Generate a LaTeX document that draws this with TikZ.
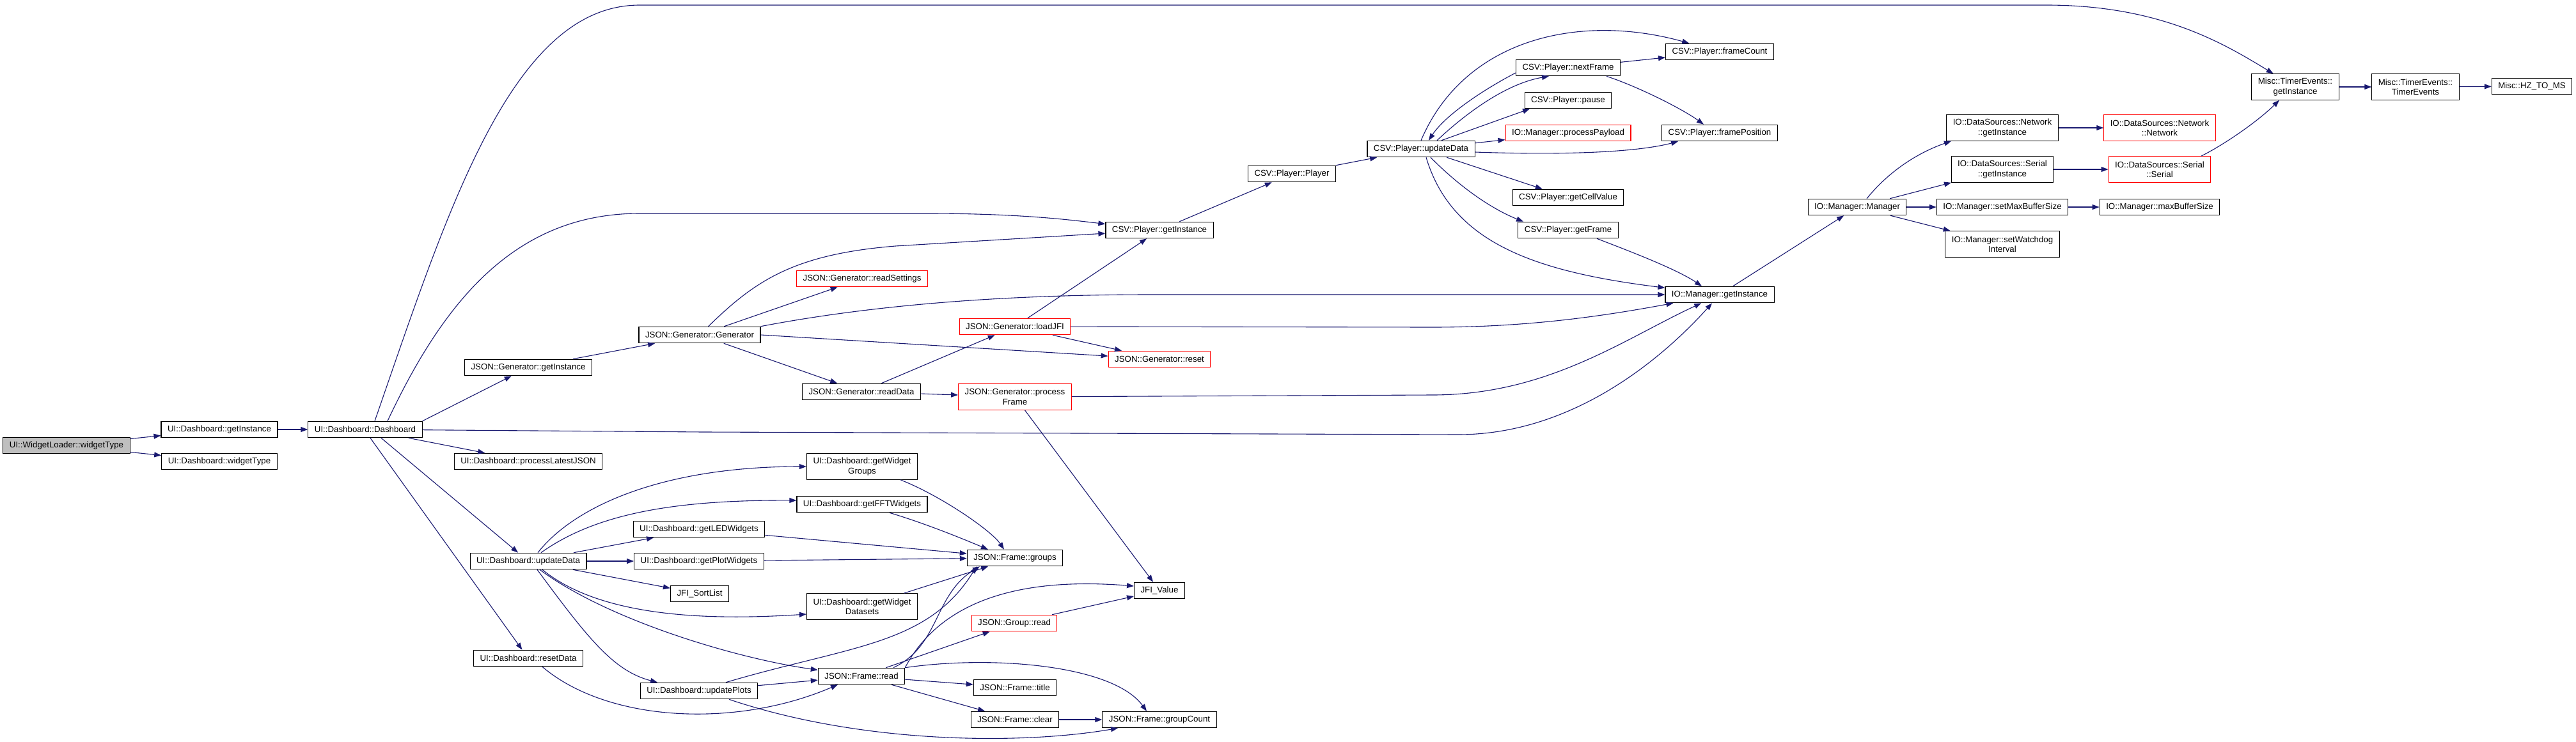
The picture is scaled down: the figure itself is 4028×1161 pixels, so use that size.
\documentclass[tikz,border=0pt]{standalone}
\usepackage{fontspec}
\setmainfont{Liberation Sans}
\usepackage{tikz}
\usetikzlibrary{arrows.meta}
\usepackage{xcolor}
\definecolor{callblue}{HTML}{191970}
\definecolor{rootgray}{HTML}{BFBFBF}
\definecolor{truncred}{HTML}{FF0000}
\newcommand{\fnsize}{\fontsize{13.3pt}{15.5pt}\selectfont}

\begin{document}
\begin{tikzpicture}[x=1pt, y=1pt,
      fn/.style={rectangle, draw=black, fill=white, line width=1.1pt, inner xsep=10pt, inner ysep=1pt, minimum height=25.5pt, align=center, font=\fnsize},
      fn2/.style={fn, minimum height=40.5pt},
      rootfn/.style={fn, fill=rootgray},
      trunc/.style={fn, draw=truncred},
      trunc2/.style={fn2, draw=truncred},
      arrow/.style={-{Triangle[length=11pt, width=8pt]}, line width=1.1pt, callblue},
    ]
    \useasboundingbox (0,0) rectangle (4028,-1161);

    \node[rootfn] (wlType) at (104,-697) {UI::WidgetLoader::widgetType};
    \node[fn] (dbInst) at (343,-672) {UI::Dashboard::getInstance};
    \node[fn] (dbType) at (343,-722) {UI::Dashboard::widgetType};
    \node[fn] (dbCtor) at (571,-672) {UI::Dashboard::Dashboard};
    \node[fn] (genInst) at (826,-575) {JSON::Generator::getInstance};
    \node[fn] (procJson) at (826,-722) {UI::Dashboard::processLatestJSON};
    \node[fn] (dbUpd) at (826,-878) {UI::Dashboard::updateData};
    \node[fn] (dbReset) at (826,-1030) {UI::Dashboard::resetData};
    \node[fn] (genCtor) at (1094,-524) {JSON::Generator::Generator};
    \node[fn] (ledW) at (1093,-828) {UI::Dashboard::getLEDWidgets};
    \node[fn] (plotW) at (1093,-878) {UI::Dashboard::getPlotWidgets};
    \node[fn] (sortList) at (1094,-929) {JFI\_SortList};
    \node[fn] (dbPlots) at (1093,-1081) {UI::Dashboard::updatePlots};
    \node[trunc] (readSet) at (1348,-436) {JSON::Generator::readSettings};
    \node[fn] (readData) at (1347,-613) {JSON::Generator::readData};
    \node[fn2] (groupsW) at (1348,-730) {UI::Dashboard::getWidget\\Groups};
    \node[fn] (fftW) at (1348,-789) {UI::Dashboard::getFFTWidgets};
    \node[fn2] (dataW) at (1348,-949) {UI::Dashboard::getWidget\\Datasets};
    \node[fn] (frRead) at (1347,-1058) {JSON::Frame::read};
    \node[trunc] (loadJfi) at (1587,-511) {JSON::Generator::loadJFI};
    \node[trunc2] (procFrame) at (1587,-621) {JSON::Generator::process\\Frame};
    \node[fn] (frGroups) at (1587,-873) {JSON::Frame::groups};
    \node[trunc] (grpRead) at (1586,-975) {JSON::Group::read};
    \node[fn] (frTitle) at (1587,-1076) {JSON::Frame::title};
    \node[fn] (frClear) at (1587,-1126) {JSON::Frame::clear};
    \node[fn] (csvInst) at (1813,-360) {CSV::Player::getInstance};
    \node[trunc] (genReset) at (1813,-562) {JSON::Generator::reset};
    \node[fn] (jfiValue) at (1813,-924) {JFI\_Value};
    \node[fn] (frCount) at (1813,-1126) {JSON::Frame::groupCount};
    \node[fn] (csvCtor) at (2020,-272) {CSV::Player::Player};
    \node[fn] (csvUpd) at (2222,-233) {CSV::Player::updateData};
    \node[fn] (csvNext) at (2452,-106) {CSV::Player::nextFrame};
    \node[fn] (csvPause) at (2452,-157) {CSV::Player::pause};
    \node[trunc] (procPay) at (2452,-208) {IO::Manager::processPayload};
    \node[fn] (cellVal) at (2452,-309) {CSV::Player::getCellValue};
    \node[fn] (getFrame) at (2452,-360) {CSV::Player::getFrame};
    \node[fn] (frameCnt) at (2689,-81) {CSV::Player::frameCount};
    \node[fn] (framePos) at (2689,-208) {CSV::Player::framePosition};
    \node[fn] (ioInst) at (2689,-461) {IO::Manager::getInstance};
    \node[fn] (ioCtor) at (2904,-324) {IO::Manager::Manager};
    \node[fn2] (netInst) at (3131,-200) {IO::DataSources::Network\\::getInstance};
    \node[fn2] (serInst) at (3131,-265) {IO::DataSources::Serial\\::getInstance};
    \node[fn] (setMax) at (3131,-324) {IO::Manager::setMaxBufferSize};
    \node[fn2] (setWd) at (3131,-382) {IO::Manager::setWatchdog\\Interval};
    \node[trunc2] (netCtor) at (3377,-200) {IO::DataSources::Network\\::Network};
    \node[trunc2] (serCtor) at (3377,-265) {IO::DataSources::Serial\\::Serial};
    \node[fn] (maxBuf) at (3377,-324) {IO::Manager::maxBufferSize};
    \node[fn2] (tmInst) at (3589,-136) {Misc::TimerEvents::\\getInstance};
    \node[fn2] (tmCtor) at (3777,-136) {Misc::TimerEvents::\\TimerEvents};
    \node[fn] (hzMs) at (3959,-135) {Misc::HZ\_TO\_MS};

    \draw[arrow] (wlType) -- (dbInst);
    \draw[arrow] (wlType) -- (dbType);
    \draw[arrow] (dbInst) -- (dbCtor);
    \draw[arrow] ([xshift=15pt]dbCtor.north) .. controls (700,-330) and (800,-8) .. (1000,-8) -- (3200,-8) .. controls (3380,-8) and (3480,-70) .. (tmInst);
    \draw[arrow] ([xshift=35pt]dbCtor.north) .. controls (690,-480) and (800,-334) .. (1000,-334) -- (1450,-334) .. controls (1600,-334) and (1680,-345) .. (csvInst);
    \draw[arrow] (dbCtor.north east) -- (genInst);
    \draw[arrow] (dbCtor) -- (1100,-676) -- (2280,-680) .. controls (2460,-680) and (2600,-560) .. (ioInst);
    \draw[arrow] (dbCtor) -- (procJson);
    \draw[arrow] ([xshift=25pt]dbCtor.south) -- (dbUpd);
    \draw[arrow] ([xshift=8pt]dbCtor.south) -- (dbReset);
    \draw[arrow] (genInst) -- (genCtor);
    \draw[arrow] (genCtor) .. controls (1180,-440) and (1240,-398) .. (1400,-385) -- (csvInst);
    \draw[arrow] (genCtor) -- (readSet);
    \draw[arrow] (genCtor.north east) .. controls (1350,-480) and (1550,-461) .. (1800,-461) -- (ioInst);
    \draw[arrow] (genCtor.east) -- (genReset);
    \draw[arrow] (genCtor) -- (readData);
    \draw[arrow] (readData) -- (loadJfi);
    \draw[arrow] (readData) -- (procFrame);
    \draw[arrow] (loadJfi) -- (csvInst);
    \draw[arrow] (loadJfi) -- (2240,-512) .. controls (2400,-512) and (2520,-492) .. (ioInst);
    \draw[arrow] (loadJfi) -- (genReset);
    \draw[arrow] (procFrame) -- (2240,-618) .. controls (2420,-618) and (2540,-530) .. (ioInst);
    \draw[arrow] (procFrame) -- (jfiValue);
    \draw[arrow] (csvInst) -- (csvCtor);
    \draw[arrow] (csvCtor) -- (csvUpd);
    \draw[arrow] (csvUpd.north) .. controls (2290,-60) and (2470,-20) .. (frameCnt);
    \draw[arrow] ([yshift=-8pt]csvNext.west) .. controls (2320,-140) and (2260,-180) .. ([xshift=12pt]csvUpd.north);
    \draw[arrow] ([xshift=25pt]csvUpd.north) .. controls (2300,-170) and (2360,-130) .. ([xshift=-30pt]csvNext.south);
    \draw[arrow] ([xshift=32pt]csvUpd.north) -- ([xshift=-60pt]csvPause.south);
    \draw[arrow] (csvUpd) -- (procPay);
    \draw[arrow] ([yshift=-5pt]csvUpd.east) .. controls (2450,-243) and (2560,-238) .. ([xshift=-65pt]framePos.south);
    \draw[arrow] (csvUpd) -- (cellVal);
    \draw[arrow] ([xshift=15pt]csvUpd.south) .. controls (2290,-300) and (2340,-330) .. ([xshift=-70pt]getFrame.north);
    \draw[arrow] ([xshift=8pt]csvUpd.south) .. controls (2270,-380) and (2400,-425) .. (ioInst);
    \draw[arrow] (csvNext) -- (frameCnt);
    \draw[arrow] ([xshift=60pt]csvNext.south) .. controls (2560,-135) and (2630,-170) .. ([xshift=-25pt]framePos.north);
    \draw[arrow] ([xshift=45pt]getFrame.south) .. controls (2540,-390) and (2620,-420) .. ([xshift=-28pt]ioInst.north);
    \draw[arrow] (ioInst) -- (ioCtor);
    \draw[arrow] ([xshift=15pt]ioCtor.north) .. controls (2960,-260) and (3010,-235) .. ([xshift=-80pt]netInst.south);
    \draw[arrow] (ioCtor) -- (serInst);
    \draw[arrow] (ioCtor) -- (setMax);
    \draw[arrow] (ioCtor) -- (setWd);
    \draw[arrow] (netInst) -- (netCtor);
    \draw[arrow] (serInst) -- (serCtor);
    \draw[arrow] (setMax) -- (maxBuf);
    \draw[arrow] ([xshift=65pt]serCtor.north) .. controls (3480,-225) and (3530,-190) .. ([xshift=-25pt]tmInst.south);
    \draw[arrow] (tmInst) -- (tmCtor);
    \draw[arrow] (tmCtor) -- (hzMs);

    \draw[arrow] ([xshift=15pt]dbUpd.north) .. controls (900,-790) and (1040,-730) .. (groupsW.west);
    \draw[arrow] ([xshift=20pt]dbUpd.north) .. controls (930,-805) and (1050,-782) .. ([yshift=6pt]fftW.west);
    \draw[arrow] (dbUpd) -- (ledW);
    \draw[arrow] (dbUpd) -- (plotW);
    \draw[arrow] (dbUpd) -- (sortList);
    \draw[arrow] ([xshift=22pt]dbUpd.south) .. controls (920,-950) and (1050,-975) .. ([yshift=-12pt]dataW.west);
    \draw[arrow] ([xshift=18pt]dbUpd.south) .. controls (950,-970) and (1150,-1030) .. (frRead);
    \draw[arrow] ([xshift=14pt]dbUpd.south) .. controls (920,-1000) and (960,-1050) .. ([xshift=-65pt]dbPlots.north);
    \draw[arrow] ([xshift=60pt]groupsW.south) .. controls (1470,-775) and (1550,-830) .. ([xshift=-17pt]frGroups.north);
    \draw[arrow] ([xshift=43pt]fftW.south) .. controls (1450,-820) and (1510,-845) .. ([xshift=-42pt]frGroups.north);
    \draw[arrow] (ledW) -- (frGroups);
    \draw[arrow] (plotW) -- (frGroups);
    \draw[arrow] (dataW) -- (frGroups);
    \draw[arrow] ([xshift=42pt]dbPlots.north) .. controls (1330,-1010) and (1450,-1010) .. ([xshift=-60pt]frGroups.south);
    \draw[arrow] (dbPlots) -- (frRead);
    \draw[arrow] ([xshift=47pt]dbPlots.south) .. controls (1350,-1165) and (1600,-1165) .. ([xshift=-65pt]frCount.south);
    \draw[arrow] ([xshift=22pt]dbReset.south) .. controls (950,-1130) and (1150,-1140) .. ([xshift=-37pt]frRead.south);
    \draw[arrow] ([xshift=50pt]frRead.north) .. controls (1470,-1010) and (1460,-930) .. ([xshift=-55pt]frGroups.south);
    \draw[arrow] (frRead.north east) .. controls (1460,-960) and (1560,-900) .. ([yshift=7pt]jfiValue.west);
    \draw[arrow] (frRead) -- (grpRead);
    \draw[arrow] (frRead) -- (frTitle);
    \draw[arrow] (frRead) -- (frClear);
    \draw[arrow] (frRead.north east) .. controls (1550,-1025) and (1740,-1040) .. ([xshift=-20pt]frCount.north);
    \draw[arrow] (frClear) -- (frCount);
    \draw[arrow] (grpRead) -- (jfiValue);
  \end{tikzpicture}
\end{document}
